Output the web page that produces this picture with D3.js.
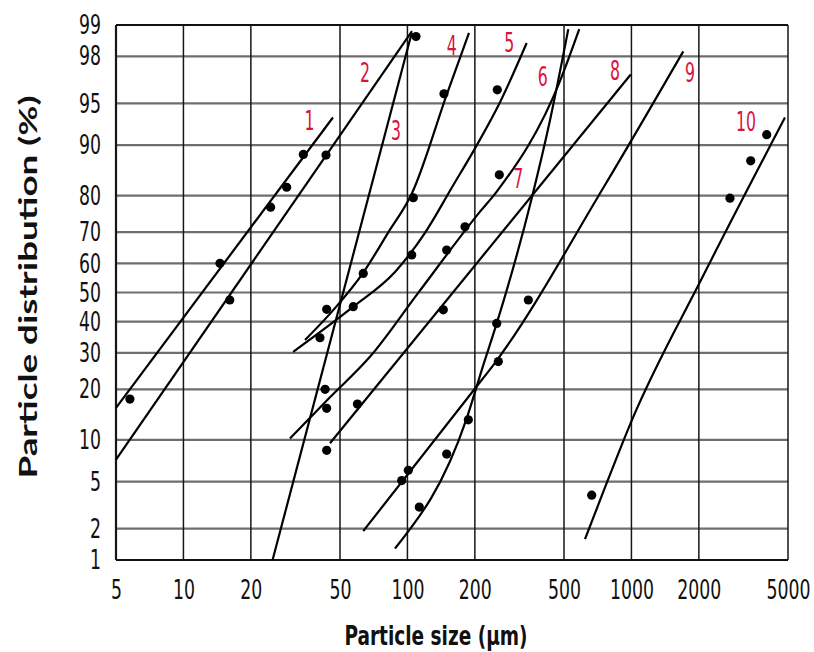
<!DOCTYPE html>
<html>
<head>
<meta charset="utf-8">
<script src="https://cdn.jsdelivr.net/npm/d3@7"></script>
<style>
  body { margin: 0; background: #fff; }
  svg { display: block; }
</style>
</head>
<body>
<div id="chart"></div>
<script>
// probability paper: log particle size vs cumulative % (probit axis)

const width = 814;
const height = 652;
const plot = { left: 116, right: 788, top: 25, bottom: 560 };

// tick values
const xTicks = [5, 10, 20, 50, 100, 200, 500, 1000, 2000, 5000];
const yTicks = [1, 2, 5, 10, 20, 30, 40, 50, 60, 70, 80, 90, 95, 98, 99];

// curves: [size µm, cumulative %]
const curve1 = [[5, 15.8], [46.5, 93.6]];
const curve2 = [[5, 7.3], [104.8, 98.85]];
const curve3 = [[25.0, 1.0], [104.5, 98.8]];
const curve4 = [[34.9, 34.0], [47.5, 44.6], [63.3, 56.7], [81.9, 69.8], [104.8, 80.6], [150.2, 95.8], [188.3, 98.8]];
const curve5 = [[30.9, 30.3], [57.3, 45.1], [88.0, 57.1], [119.8, 69.8], [160.3, 82.5], [200.3, 89.5], [259, 95.1], [340.8, 98.5]];
const curve6 = [[29.9, 10.2], [45.1, 18.1], [68.0, 28.8], [111.5, 49.8], [210.9, 75.9], [250.4, 81.0], [479.8, 96.7], [585, 98.9]];
const curve7 = [[88.0, 1.3], [183.9, 13.7], [218.1, 26.4], [250.4, 39.4], [358.8, 79.4], [433, 93.3], [522.6, 98.9]];
const curve8 = [[45.1, 9.5], [993, 97.1]];
const curve9 = [[63.5, 1.9], [200.3, 20.2], [241.8, 26.4], [762, 82.5], [1704, 98.2]];
const curve10 = [[620.7, 1.6], [762, 4.5], [1006, 13.4], [2066, 55.0], [4848, 93.6]];
const curves = [curve1, curve2, curve3, curve4, curve5, curve6, curve7, curve8, curve9, curve10];

// curve numbers and where they sit [size, %]
const curveNames = ["1", "2", "3", "4", "5", "6", "7", "8", "9", "10"];
const nameAt = [[36.5, 93.3], [64.7, 97.2], [88.9, 92.1], [157.7, 98.4], [285, 98.5],
                [401.6, 97.0], [312.6, 84.0], [844.7, 97.3], [1826, 97.2], [3247, 93.1]];

// measured points [size µm, %]
const measured = [
  [5.77, 17.7], [14.56, 60.0], [16.1, 47.4], [24.5, 77.1], [28.9, 82.0], [34.3, 88.5],
  [43.3, 88.4], [109.2, 98.7], [145.6, 95.8], [106.2, 79.5], [63.5, 56.6], [43.6, 44.2],
  [57.3, 45.1], [40.7, 34.7], [104.5, 62.8], [149.7, 64.4], [180.7, 71.6], [144.6, 44.0],
  [251.9, 96.1], [257.2, 84.7], [250.4, 39.4], [346.5, 47.4], [254.5, 27.4], [187, 13.4],
  [149.7, 8.0], [113, 3.1], [94.3, 5.1], [100.9, 6.1], [42.9, 20.0], [43.6, 15.7],
  [43.6, 8.5], [59.8, 16.6], [664.7, 3.9], [2754, 79.4], [3408, 87.4], [4017, 91.5]
];

// inverse normal cdf (Acklam)
function probit(p) {
  const a = [-39.69683028665376, 220.9460984245205, -275.9285104469687, 138.3577518672690, -30.66479806614716, 2.506628277459239];
  const b = [-54.47609879822406, 161.5858368580409, -155.6989798598866, 66.80131188771972, -13.28068155288572];
  const c = [-0.007784894002430293, -0.3223964580411365, -2.400758277161838, -2.549732539343734, 4.374664141464968, 2.938163982698783];
  const d = [0.007784695709041462, 0.3224671290700398, 2.445134137142996, 3.754408661907416];
  const lo = 0.02425;
  let q, r;
  if (p < lo) {
    q = Math.sqrt(-2 * Math.log(p));
    return (((((c[0]*q+c[1])*q+c[2])*q+c[3])*q+c[4])*q+c[5]) / ((((d[0]*q+d[1])*q+d[2])*q+d[3])*q+1);
  }
  if (p > 1 - lo) {
    q = Math.sqrt(-2 * Math.log(1 - p));
    return -(((((c[0]*q+c[1])*q+c[2])*q+c[3])*q+c[4])*q+c[5]) / ((((d[0]*q+d[1])*q+d[2])*q+d[3])*q+1);
  }
  q = p - 0.5; r = q * q;
  return (((((a[0]*r+a[1])*r+a[2])*r+a[3])*r+a[4])*r+a[5])*q / (((((b[0]*r+b[1])*r+b[2])*r+b[3])*r+b[4])*r+1);
}

const svg = d3.select("#chart")
  .append("svg")
  .attr("width", width)
  .attr("height", height);

svg.append("rect").attr("width", width).attr("height", height).attr("fill", "#fff");

// scales
const x = d3.scaleLog().domain([5, 5000]).range([plot.left, plot.right]);
const z = d3.scaleLinear().domain([probit(0.01), probit(0.99)]).range([plot.bottom, plot.top]);
const y = p => z(probit(p / 100));

// horizontal grid
svg.append("g")
  .selectAll("line")
  .data(yTicks)
  .join("line")
  .attr("x1", plot.left).attr("x2", plot.right)
  .attr("y1", d => y(d)).attr("y2", d => y(d))
  .attr("stroke", d => (d === 1 || d === 99) ? "#111" : "#6e6e6e")
  .attr("stroke-width", 2.2);

// vertical grid
svg.append("g")
  .selectAll("line")
  .data(xTicks)
  .join("line")
  .attr("x1", d => x(d)).attr("x2", d => x(d))
  .attr("y1", plot.top).attr("y2", plot.bottom)
  .attr("stroke", "#161616")
  .attr("stroke-width", d => (d === 5) ? 2.2 : 1.5);

const tickFont = "'Liberation Sans Narrow', 'DejaVu Sans Condensed', 'Liberation Sans', sans-serif";

// axes
const yAxis = svg.append("g")
  .attr("transform", `translate(${plot.left},0)`)
  .call(d3.axisLeft(z)
    .tickValues(yTicks.map(p => probit(p / 100)))
    .tickFormat((d, i) => yTicks[i])
    .tickSize(0)
    .tickPadding(15));

const xAxis = svg.append("g")
  .attr("transform", `translate(0,${plot.bottom})`)
  .call(d3.axisBottom(x)
    .tickValues(xTicks)
    .tickFormat(d3.format("d"))
    .tickSize(0)
    .tickPadding(20));

[yAxis, xAxis].forEach(g => {
  g.select(".domain").remove();
  g.selectAll("text")
    .attr("font-family", tickFont)
    .attr("font-size", 27)
    .attr("fill", "#111")
    .attr("textLength", function() { return this.textContent.length * 11; })
    .attr("lengthAdjust", "spacingAndGlyphs");
});

// curves
const line = d3.line()
  .x(d => x(d[0]))
  .y(d => y(d[1]))
  .curve(d3.curveMonotoneX);

svg.append("g")
  .selectAll("path")
  .data(curves)
  .join("path")
  .attr("fill", "none")
  .attr("stroke", "#000")
  .attr("stroke-width", 2.2)
  .attr("d", line);

// measured points
svg.append("g")
  .selectAll("circle")
  .data(measured)
  .join("circle")
  .attr("cx", d => x(d[0]))
  .attr("cy", d => y(d[1]))
  .attr("r", 4.6)
  .attr("fill", "#000");

// curve numbers
svg.append("g")
  .selectAll("text")
  .data(curveNames)
  .join("text")
  .attr("x", (d, i) => x(nameAt[i][0]))
  .attr("y", (d, i) => y(nameAt[i][1]))
  .attr("dy", "0.36em")
  .attr("text-anchor", "middle")
  .attr("font-family", tickFont)
  .attr("font-size", 26)
  .attr("fill", "#d8143c")
  .attr("textLength", d => d.length * 10)
  .attr("lengthAdjust", "spacingAndGlyphs")
  .text(d => d);

// axis titles
svg.append("text")
  .attr("x", 436)
  .attr("y", 645)
  .attr("text-anchor", "middle")
  .attr("font-family", tickFont)
  .attr("font-weight", "bold")
  .attr("font-size", 26)
  .attr("fill", "#111")
  .attr("textLength", 183)
  .attr("lengthAdjust", "spacingAndGlyphs")
  .text("Particle size (µm)");

svg.append("text")
  .attr("transform", "translate(37,287) rotate(-90)")
  .attr("text-anchor", "middle")
  .attr("font-family", "Lato, 'Open Sans', sans-serif")
  .attr("font-weight", "bold")
  .attr("font-size", 25)
  .attr("fill", "#111")
  .attr("textLength", 383)
  .attr("lengthAdjust", "spacingAndGlyphs")
  .text("Particle distribution (%)");
</script>
</body>
</html>
